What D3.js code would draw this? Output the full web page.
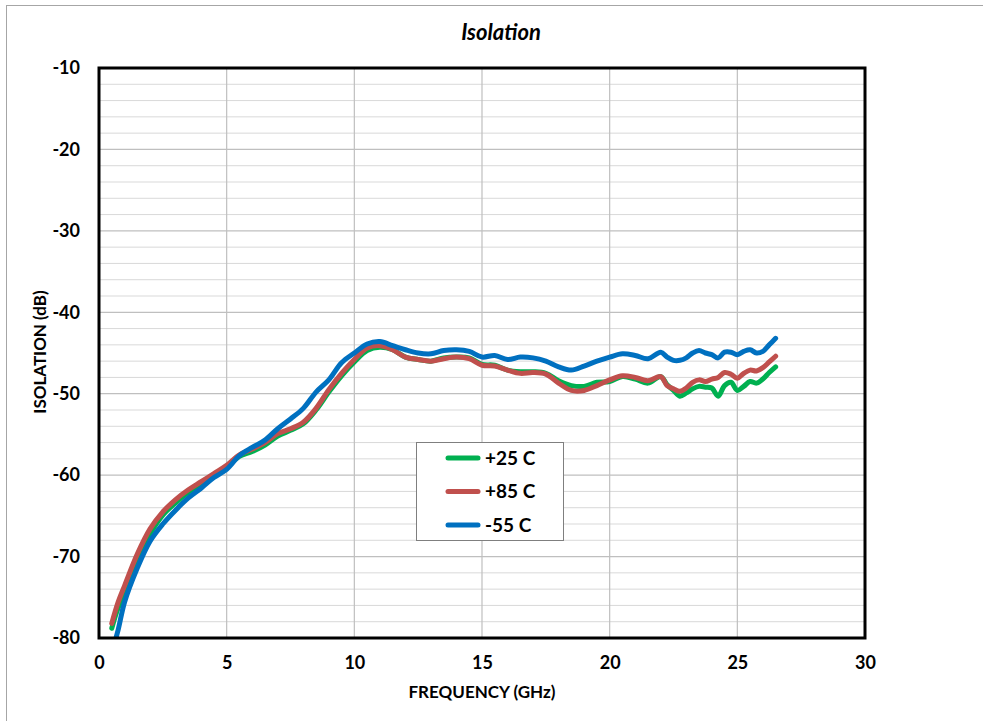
<!DOCTYPE html>
<html>
<head>
<meta charset="utf-8">
<script src="https://cdn.jsdelivr.net/npm/d3@7"></script>
<style>
  body { margin: 0; background: #fff; }
  text { font-family: Lato, "Open Sans", sans-serif; font-weight: bold; }
</style>
</head>
<body>
<div id="chart"></div>
<script>
// frequency in GHz
const freq = [0.5, 0.75, 1, 1.5, 2, 2.5, 3, 3.5, 4, 4.5, 5, 5.5, 6, 6.5, 7, 7.5, 8, 8.5, 9, 9.5,
  10, 10.5, 11, 11.5, 12, 12.5, 13, 13.5, 14, 14.5, 15, 15.5, 16, 16.5, 17, 17.5, 18, 18.5, 19, 19.5,
  20, 20.5, 21, 21.5, 22, 22.25, 22.5, 22.75, 23, 23.25, 23.5, 23.75, 24, 24.25, 24.5, 24.75,
  25, 25.25, 25.5, 25.75, 26, 26.25, 26.5];

const iso25 = [-78.8, -76.3, -74.6, -70.4, -67.2, -64.9, -63.4, -62.1, -61.1, -60.1, -59.0, -57.7, -57.1, -56.3, -55.2, -54.5, -53.7, -52.0, -49.8, -47.8,
  -46.1, -44.7, -44.3, -44.6, -45.5, -45.8, -46.0, -45.6, -45.5, -45.6, -46.4, -46.5, -47.1, -47.3, -47.3, -47.5, -48.4, -49.0, -49.1, -48.6,
  -48.5, -47.9, -48.2, -48.7, -47.9, -48.9, -49.6, -50.3, -49.9, -49.4, -49.1, -49.2, -49.3, -50.3, -49.0, -48.6,
  -49.6, -49.1, -48.5, -48.7, -48.2, -47.4, -46.7];

const iso85 = [-78.2, -75.6, -73.6, -69.7, -66.6, -64.5, -63.0, -61.8, -60.8, -59.8, -58.8, -57.5, -56.8, -56.0, -54.9, -54.3, -53.5, -51.8, -49.5, -47.5,
  -45.8, -44.4, -44.1, -44.6, -45.5, -45.8, -46.0, -45.7, -45.5, -45.7, -46.5, -46.6, -47.1, -47.5, -47.4, -47.6, -48.7, -49.6, -49.6, -49.0,
  -48.3, -47.8, -48.0, -48.4, -47.9, -49.0, -49.4, -49.7, -49.3, -48.6, -48.3, -48.5, -48.2, -48.0, -47.4, -47.6,
  -48.1, -47.5, -47.1, -47.2, -46.8, -46.1, -45.4];

const isoM55 = [-81.8, -79.0, -75.6, -71.4, -68.1, -66.0, -64.3, -62.8, -61.6, -60.3, -59.3, -57.6, -56.6, -55.7, -54.3, -53.1, -51.8, -49.8, -48.3, -46.2,
  -45.0, -43.9, -43.6, -44.1, -44.6, -45.0, -45.1, -44.7, -44.6, -44.8, -45.5, -45.3, -45.8, -45.5, -45.6, -46.0, -46.7, -47.1, -46.6, -46.0,
  -45.5, -45.1, -45.3, -45.7, -44.9, -45.5, -45.9, -45.9, -45.6, -45.0, -44.7, -45.0, -45.2, -45.6, -44.9, -44.9,
  -45.2, -44.8, -44.6, -45.0, -44.8, -44.0, -43.2];

const seriesNames = ["+25 C", "+85 C", "-55 C"];
const seriesColors = ["#00b050", "#c0504d", "#0070c0"];
const xTicks = [0, 5, 10, 15, 20, 25, 30];
const yTicks = [-10, -20, -30, -40, -50, -60, -70, -80];

const width = 983, height = 721;
const margin = {top: 68, right: 118, bottom: 83, left: 99};

const svg = d3.select("#chart").append("svg")
  .attr("width", width)
  .attr("height", height);

// outer chart border
svg.append("rect")
  .attr("x", 6.5).attr("y", 5.5)
  .attr("width", 1000).attr("height", 800)
  .attr("fill", "none")
  .attr("stroke", "#a6a6a6");

const x = d3.scaleLinear().domain([0, 30]).range([margin.left, width - margin.right]);
const y = d3.scaleLinear().domain([-80, -10]).range([height - margin.bottom, margin.top]);

// grid
svg.append("g")
  .selectAll("line")
  .data(d3.range(-78, -10, 2))
  .enter().append("line")
  .attr("x1", x(0)).attr("x2", x(30))
  .attr("y1", d => y(d)).attr("y2", d => y(d))
  .attr("stroke", d => d % 10 === 0 ? "#bfbfbf" : "#d9d9d9")
  .attr("stroke-width", d => d % 10 === 0 ? 1.3 : 1);

svg.append("g")
  .selectAll("line")
  .data([5, 10, 15, 20, 25])
  .enter().append("line")
  .attr("x1", d => x(d)).attr("x2", d => x(d))
  .attr("y1", y(-80)).attr("y2", y(-10))
  .attr("stroke", "#bfbfbf")
  .attr("stroke-width", 1.2);

// axes labels
svg.append("g")
  .attr("transform", `translate(0,${y(-80)})`)
  .call(d3.axisBottom(x).tickValues(xTicks).tickSize(0).tickPadding(18).tickFormat(d => String(d)))
  .call(g => g.select(".domain").remove())
  .call(g => g.selectAll("text").attr("font-size", 18).attr("fill", "#000")
    .style("font-family", "Lato, sans-serif").style("font-weight", "bold"));

svg.append("g")
  .attr("transform", `translate(${x(0)},0)`)
  .call(d3.axisLeft(y).tickValues(yTicks).tickSize(0).tickPadding(19).tickFormat(d => String(d)))
  .call(g => g.select(".domain").remove())
  .call(g => g.selectAll("text").attr("font-size", 18).attr("fill", "#000")
    .style("font-family", "Lato, sans-serif").style("font-weight", "bold"));

// clip for curves
svg.append("clipPath").attr("id", "plotclip")
  .append("rect")
  .attr("x", x(0)).attr("y", y(-10))
  .attr("width", x(30) - x(0)).attr("height", y(-80) - y(-10));

const allSeries = [iso25, iso85, isoM55];
const line = d3.line()
  .x((d, i) => x(freq[i]))
  .y(d => y(d))
  .curve(d3.curveCatmullRom);

svg.append("g")
  .attr("clip-path", "url(#plotclip)")
  .selectAll("path")
  .data(allSeries)
  .enter().append("path")
  .attr("d", d => line(d))
  .attr("fill", "none")
  .attr("stroke", (d, i) => seriesColors[i])
  .attr("stroke-width", 5)
  .attr("stroke-linecap", "round")
  .attr("stroke-linejoin", "round");

// plot border
svg.append("rect")
  .attr("x", x(0)).attr("y", y(-10))
  .attr("width", x(30) - x(0)).attr("height", y(-80) - y(-10))
  .attr("fill", "none")
  .attr("stroke", "#000")
  .attr("stroke-width", 3);

// legend
const legend = svg.append("g").attr("transform", "translate(416,442)");
legend.append("rect")
  .attr("x", 0.5).attr("y", 0.5)
  .attr("width", 147).attr("height", 98)
  .attr("fill", "#fff")
  .attr("stroke", "#7f7f7f");

seriesNames.forEach((name, i) => {
  const ly = 16 + i * 33.5;
  legend.append("line")
    .attr("x1", 32).attr("x2", 62)
    .attr("y1", ly).attr("y2", ly)
    .attr("stroke", seriesColors[i])
    .attr("stroke-width", 5)
    .attr("stroke-linecap", "round");
  legend.append("text")
    .attr("x", 69).attr("y", ly)
    .attr("dy", "0.35em")
    .attr("font-size", 19)
    .text(name);
});

// titles
svg.append("text")
  .attr("x", 501).attr("y", 32)
  .attr("dy", "0.35em")
  .attr("text-anchor", "middle")
  .attr("font-size", 22)
  .attr("font-style", "italic")
  .text("Isolation");

svg.append("text")
  .attr("x", 482).attr("y", 692)
  .attr("dy", "0.35em")
  .attr("text-anchor", "middle")
  .attr("font-size", 17)
  .text("FREQUENCY (GHz)");

svg.append("text")
  .attr("transform", "translate(40,352) rotate(-90)")
  .attr("dy", "0.35em")
  .attr("text-anchor", "middle")
  .attr("font-size", 17)
  .text("ISOLATION (dB)");
</script>
</body>
</html>
